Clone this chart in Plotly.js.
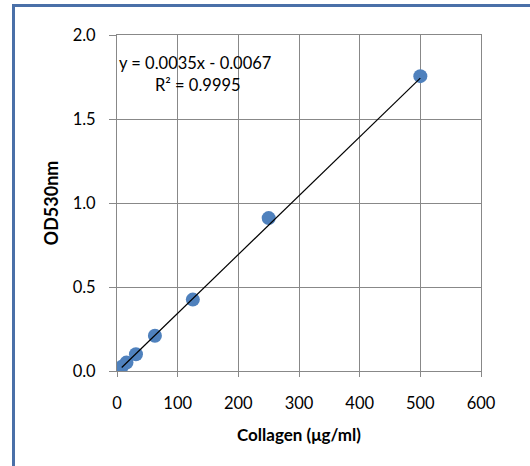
<!DOCTYPE html>
<html><head><meta charset="utf-8">
<script src="https://cdn.plot.ly/plotly-3.0.1.min.js"></script>
<style>
html,body{margin:0;padding:0;background:#fff;overflow:hidden}
#chart{width:530px;height:466px;position:absolute;left:0;top:0}
#frame{position:absolute;left:12px;top:4px;width:600px;height:600px;border:3px solid #4a70a8;box-sizing:border-box;pointer-events:none}
</style></head>
<body>
<div id="chart"></div>
<div id="frame"></div>
<script>
var collagen = [7.8, 15.6, 31.25, 62.5, 125, 250, 500];
var od530 = [0.025, 0.05, 0.10, 0.21, 0.425, 0.91, 1.755];
var trendX = [7.8, 500];
var trendY = [0.021, 1.743];
var xTicks = [0, 100, 200, 300, 400, 500, 600];
var yTicks = [0.0, 0.5, 1.0, 1.5, 2.0];
var yTickText = ['0.0', '0.5', '1.0', '1.5', '2.0'];

var font = 'Lato, "Open Sans", sans-serif';
var grid = '#888888';

var data = [
  {x: collagen, y: od530, mode: 'markers', type: 'scatter',
   marker: {color: '#4f81bd', size: 14, line: {width: 0}}, hoverinfo: 'none'},
  {x: trendX, y: trendY, mode: 'lines', type: 'scatter',
   line: {color: '#000000', width: 1.2}, hoverinfo: 'none'}
];

var layout = {
  width: 530, height: 466,
  margin: {l: 117, r: 49, t: 35, b: 95},
  paper_bgcolor: 'rgba(0,0,0,0)', plot_bgcolor: '#ffffff',
  showlegend: false,
  font: {family: font, size: 16.5, color: '#000'},
  xaxis: {
    range: [0, 600], tickvals: xTicks, ticktext: xTicks.map(String),
    showgrid: true, gridcolor: grid, gridwidth: 1,
    showline: true, linecolor: grid, linewidth: 1, mirror: true,
    ticks: 'outside', ticklen: 5, tickcolor: grid, tickwidth: 1,
    ticklabelstandoff: 12, zeroline: false,
    tickfont: {family: font, size: 16.5},
    title: {text: '<b>Collagen (μg/ml)</b>', font: {family: font, size: 17}, standoff: 17}
  },
  yaxis: {
    range: [0, 2], tickvals: yTicks, ticktext: yTickText,
    showgrid: true, gridcolor: grid, gridwidth: 1,
    showline: true, linecolor: grid, linewidth: 1, mirror: true,
    ticks: 'outside', ticklen: 7, tickcolor: grid, tickwidth: 1,
    ticklabelstandoff: 10, zeroline: false,
    tickfont: {family: font, size: 16.5},
    title: {text: '<b>OD530nm</b>', font: {family: font, size: 18}, standoff: 9}
  },
  annotations: [
    {xref: 'paper', yref: 'paper', x: 0.215, y: 0.918, xanchor: 'center', yanchor: 'middle',
     text: 'y = 0.0035x - 0.0067', showarrow: false, font: {family: font, size: 16.5}},
    {xref: 'paper', yref: 'paper', x: 0.222, y: 0.852, xanchor: 'center', yanchor: 'middle',
     text: 'R² = 0.9995', showarrow: false, font: {family: font, size: 16.5}}
  ]
};

Plotly.newPlot('chart', data, layout, {displayModeBar: false, staticPlot: true});
</script>
</body></html>
